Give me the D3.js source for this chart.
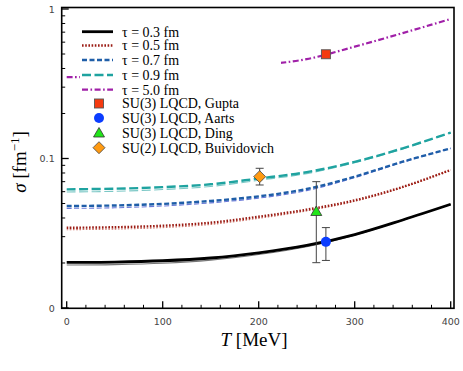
<!DOCTYPE html>
<html lang="en">
<head>
  <meta charset="UTF-8">
  <title>sigma vs T</title>
  <style>
    body { margin: 0; background: #fff; }
    #plot { width: 463px; height: 371px; }
    .tick-label { font-family: 'DejaVu Sans', sans-serif; font-size: 9.5px; fill: #444; }
    .axis-title { font-family: 'Liberation Serif', serif; font-size: 19px; fill: #000; }
    .legend-text { font-family: 'Liberation Serif', serif; font-size: 14px; fill: #000; }
  </style>
</head>
<body>
  <div id="plot"></div>
  <script src="https://cdn.jsdelivr.net/npm/d3@7"></script>
  <script>
    const temps = [0, 50, 100, 150, 200, 250, 300, 350, 400];

    // conductivity curves, thick (main) and thin (companion) for each tau
    const tau03 = [0.0202, 0.0203, 0.0207, 0.0216, 0.0234, 0.0262, 0.0310, 0.0388, 0.0494];
    const tau03thin = [0.0194, 0.0195, 0.0199, 0.0209, 0.0228, 0.0257, 0.0307, 0.0386, 0.0494];
    const tau05 = [0.0344, 0.0347, 0.0355, 0.0372, 0.0408, 0.0455, 0.0525, 0.0645, 0.0838];
    const tau05thin = [0.0334, 0.0337, 0.0345, 0.0362, 0.0398, 0.0446, 0.0517, 0.0640, 0.0838];
    const tau07 = [0.0481, 0.0485, 0.0497, 0.0520, 0.0558, 0.0625, 0.0756, 0.0952, 0.117];
    const tau07thin = [0.0464, 0.0468, 0.0481, 0.0505, 0.0543, 0.0610, 0.0745, 0.0945, 0.117];
    const tau09 = [0.0622, 0.0628, 0.0643, 0.0672, 0.0735, 0.0810, 0.0950, 0.117, 0.149];
    const tau09thin = [0.0597, 0.0603, 0.0620, 0.0650, 0.0715, 0.0792, 0.0937, 0.116, 0.149];
    const tau50 = [0.350, 0.354, 0.365, 0.385, 0.420, 0.462, 0.560, 0.690, 0.857];

    // lattice points: T, sigma, error low, error high
    const latNames = ['SU(3) LQCD, Gupta', 'SU(3) LQCD, Aarts', 'SU(3) LQCD, Ding', 'SU(2) LQCD, Buividovich'];
    const latT = [270, 270, 260, 201];
    const latSigma = [0.498, 0.0277, 0.0442, 0.0756];
    const latLo = [null, 0.0208, 0.0201, 0.0665];
    const latHi = [null, 0.0345, 0.0700, 0.0860];

    // axis ticks
    const xMajor = [0, 100, 200, 300, 400];
    const yMajor = [0.01, 0.1, 1];
    const yMajorLabels = ['0', '0.1', '1'];

    const W = 463, H = 371;
    const frame = { left: 61.7, right: 454, top: 7.5, bottom: 308.3 };

    const svg = d3.select('#plot').append('svg')
      .attr('width', W).attr('height', H);

    let x = d3.scaleLinear().domain([0, 400]).range([66.7, 450.7]);
    let y = d3.scaleLog().domain([0.01, 1]).range([308, 9]);

    const series = [
      { label: 'τ = 0.3 fm', thick: tau03, thin: tau03thin, color: '#000', thinColor: '#777', dash: null, width: 2.8 },
      { label: 'τ = 0.5 fm', thick: tau05, thin: tau05thin, color: '#9b1c14', thinColor: '#d07a70', dash: '1.6,1.6', width: 2.4 },
      { label: 'τ = 0.7 fm', thick: tau07, thin: tau07thin, color: '#1f5ea8', thinColor: '#6a78d8', dash: '5,2.5', width: 2.4 },
      { label: 'τ = 0.9 fm', thick: tau09, thin: tau09thin, color: '#1fa3a0', thinColor: '#7cc8c6', dash: '9,3.5', width: 2.4 },
      { label: 'τ = 5.0 fm', thick: tau50, thin: null, color: '#a020a8', thinColor: null, dash: '6,2.5,1.6,2.5', width: 2.2 }
    ];

    let line = d3.line()
      .x((d, i) => x(temps[i]))
      .y(d => y(d))
      .curve(d3.curveCatmullRom.alpha(0.5));

    let plot = svg.append('g');
    plot.append('clipPath').attr('id', 'clip').append('rect')
      .attr('x', frame.left).attr('y', frame.top)
      .attr('width', frame.right - frame.left).attr('height', frame.bottom - frame.top);

    let curves = plot.append('g').attr('clip-path', 'url(#clip)');
    series.forEach(s => {
      if (s.thin) {
        curves.append('path')
          .attr('d', line(s.thin))
          .attr('fill', 'none')
          .attr('stroke', s.thinColor)
          .attr('stroke-width', 1.1)
          .attr('stroke-dasharray', s.dash);
      }
    });
    series.forEach(s => {
      curves.append('path')
        .attr('d', line(s.thick))
        .attr('fill', 'none')
        .attr('stroke', s.color)
        .attr('stroke-width', s.width)
        .attr('stroke-dasharray', s.dash);
    });

    // legend background hides the tau = 5 curve underneath
    let legend = svg.append('g');
    legend.append('rect')
      .attr('x', 80).attr('y', 22).attr('width', 201).attr('height', 134)
      .attr('fill', '#fff');

    const rowY = [31.7, 45.5, 60, 75, 89.7, 103.5, 118, 133, 147.7];
    series.forEach((s, i) => {
      legend.append('line')
        .attr('x1', 82).attr('x2', 113)
        .attr('y1', rowY[i]).attr('y2', rowY[i])
        .attr('stroke', s.color)
        .attr('stroke-width', s.width)
        .attr('stroke-dasharray', s.dash);
      legend.append('text')
        .attr('class', 'legend-text')
        .attr('x', 122).attr('y', rowY[i] + 4.8)
        .text(s.label);
    });

    function marker(g, k, cx, cy) {
      if (k === 0) {
        g.append('rect').attr('x', cx - 4.5).attr('y', cy - 4.5).attr('width', 9).attr('height', 9)
          .attr('fill', '#f53a10').attr('stroke', '#555').attr('stroke-width', 0.9);
      } else if (k === 1) {
        g.append('circle').attr('cx', cx).attr('cy', cy).attr('r', 5)
          .attr('fill', '#0b3dff');
      } else if (k === 2) {
        g.append('path').attr('d', `M${cx},${cy - 5.5}L${cx + 5.5},${cy + 4}L${cx - 5.5},${cy + 4}Z`)
          .attr('fill', '#22e51a').attr('stroke', '#333').attr('stroke-width', 0.8);
      } else {
        g.append('path').attr('d', `M${cx},${cy - 6}L${cx + 6},${cy}L${cx},${cy + 6}L${cx - 6},${cy}Z`)
          .attr('fill', '#ff9a12').attr('stroke', '#444').attr('stroke-width', 0.8);
      }
    }

    latNames.forEach((name, i) => {
      marker(legend, i, 99, rowY[5 + i]);
      legend.append('text')
        .attr('class', 'legend-text')
        .attr('x', 122).attr('y', rowY[5 + i] + 4.8)
        .text(name);
    });

    // error bars and lattice points
    let pts = svg.append('g');
    latT.forEach((t, i) => {
      let cx = x(t);
      if (latLo[i] !== null) {
        let y0 = y(latLo[i]), y1 = y(latHi[i]);
        pts.append('line').attr('x1', cx).attr('x2', cx).attr('y1', y0).attr('y2', y1)
          .attr('stroke', '#444').attr('stroke-width', 1);
        [y0, y1].forEach(v => {
          pts.append('line').attr('x1', cx - 4).attr('x2', cx + 4).attr('y1', v).attr('y2', v)
            .attr('stroke', '#444').attr('stroke-width', 1);
        });
      }
    });
    latT.forEach((t, i) => marker(pts, i, x(t), y(latSigma[i])));

    // axes: ticks point inward
    let axes = svg.append('g');
    d3.range(0, 401, 20).forEach(t => {
      let major = xMajor.includes(t);
      axes.append('line')
        .attr('x1', x(t)).attr('x2', x(t))
        .attr('y1', frame.bottom).attr('y2', frame.bottom - (major ? 7 : 3.5))
        .attr('stroke', '#000').attr('stroke-width', major ? 1.3 : 1);
    });
    xMajor.forEach(t => {
      axes.append('text').attr('class', 'tick-label')
        .attr('x', x(t)).attr('y', frame.bottom + 17)
        .attr('text-anchor', 'middle')
        .text(t);
    });

    let yMinor = [];
    [0.01, 0.1].forEach(b => d3.range(2, 10).forEach(m => yMinor.push(b * m)));
    yMinor.forEach(v => {
      axes.append('line')
        .attr('x1', frame.left).attr('x2', frame.left + 3.5)
        .attr('y1', y(v)).attr('y2', y(v))
        .attr('stroke', '#000').attr('stroke-width', 1);
    });
    yMajor.forEach((v, i) => {
      axes.append('line')
        .attr('x1', frame.left).attr('x2', frame.left + 7)
        .attr('y1', y(v)).attr('y2', y(v))
        .attr('stroke', '#000').attr('stroke-width', 1.3);
      axes.append('text').attr('class', 'tick-label')
        .attr('x', frame.left - 7).attr('y', y(v) + 3.5)
        .attr('text-anchor', 'end')
        .text(yMajorLabels[i]);
    });

    axes.append('rect')
      .attr('x', frame.left).attr('y', frame.top)
      .attr('width', frame.right - frame.left).attr('height', frame.bottom - frame.top)
      .attr('fill', 'none').attr('stroke', '#000').attr('stroke-width', 1.6);

    // axis titles
    let xt = svg.append('text').attr('class', 'axis-title')
      .attr('x', 254).attr('y', 346).attr('text-anchor', 'middle');
    xt.append('tspan').attr('font-style', 'italic').text('T');
    xt.append('tspan').text(' [MeV]');

    let yt = svg.append('text').attr('class', 'axis-title')
      .attr('transform', 'translate(26,162) rotate(-90)')
      .attr('text-anchor', 'middle');
    yt.append('tspan').attr('font-style', 'italic').text('σ');
    yt.append('tspan').text(' [fm');
    yt.append('tspan').attr('dy', -7).attr('font-size', 13).text('−1');
    yt.append('tspan').attr('dy', 7).text(']');
  </script>
</body>
</html>
